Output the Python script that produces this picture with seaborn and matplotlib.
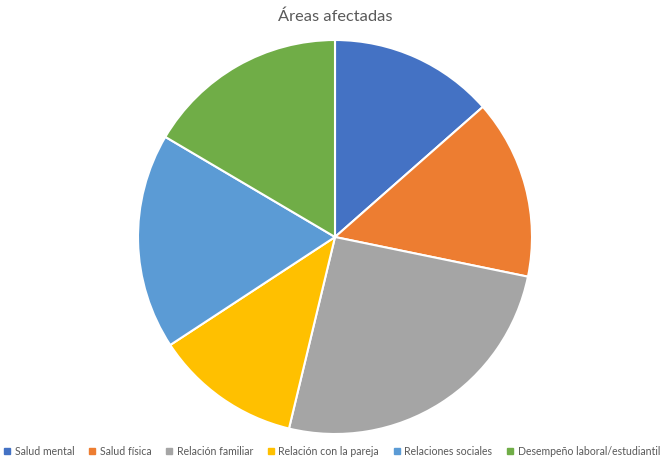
import matplotlib
matplotlib.use("Agg")
import matplotlib.pyplot as plt
import seaborn as sns
from matplotlib.lines import Line2D

categories = ["Salud mental", "Salud física", "Relación familiar",
              "Relación con la pareja", "Relaciones sociales",
              "Desempeño laboral/estudiantil"]
values = [13.5, 14.7, 25.5, 12.0, 17.7, 16.5]
colors = ["#4472C4", "#ED7D31", "#A5A5A5", "#FFC000", "#5B9BD5", "#70AD47"]

sns.set_theme(style="white")
plt.rcParams['font.family'] = ['Lato', 'DejaVu Sans']
palette = sns.color_palette(colors)

fig = plt.figure(figsize=(6.63, 4.61), dpi=100)
ax = fig.add_axes([(335 - 197) / 663, (224 - 197) / 461, 394 / 663, 394 / 461])
ax.pie(values, colors=palette, startangle=90, counterclock=False,
       radius=1, wedgeprops=dict(edgecolor="white", linewidth=1.5))
ax.set_xlim(-1.0, 1.0)
ax.set_ylim(-1.0, 1.0)
ax.set_aspect("equal")
ax.axis("off")

fig.text(0.505, 1 - 17 / 461, "Áreas afectadas", ha="center", va="center",
         fontsize=11.8, color="#595959")

handles = [Line2D([0], [0], marker="s", linestyle="", markersize=4.5,
                  markerfacecolor=c, markeredgecolor=c) for c in palette]
fig.legend(handles, categories, loc="center left",
           bbox_to_anchor=(2 / 663, 1 - 451 / 461),
           ncol=6, frameon=False, fontsize=7.6, labelcolor="#595959",
           handletextpad=0.2, columnspacing=1.2, handlelength=1.0,
           borderaxespad=0, borderpad=0)

fig.savefig("out.png", dpi=100)
